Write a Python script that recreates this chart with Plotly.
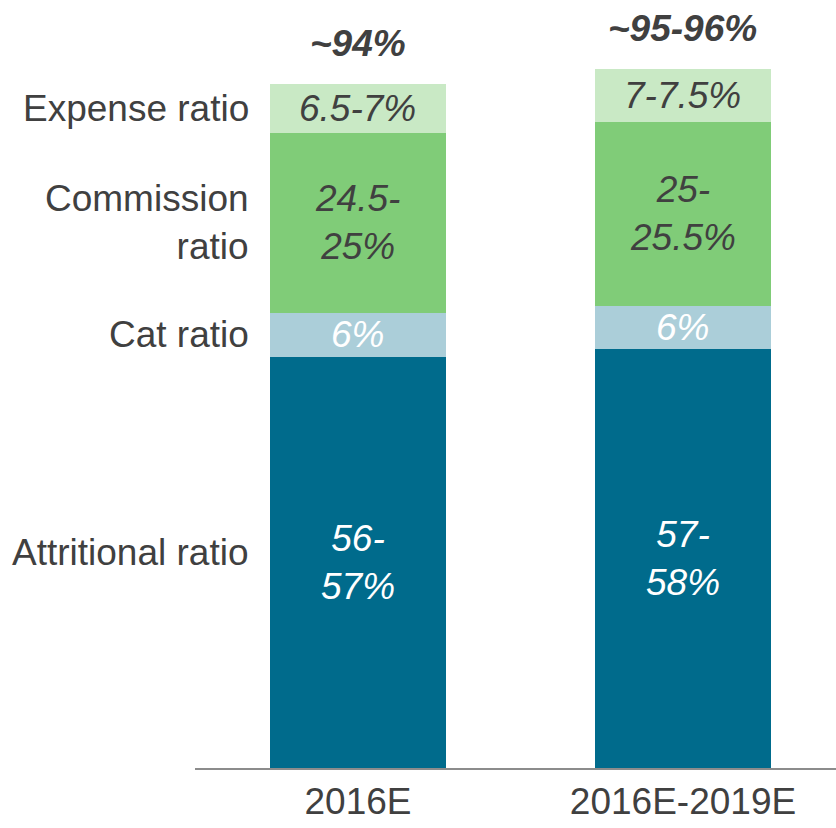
import plotly.graph_objects as go

# Combined ratio build-up, in % of net earned premium
categories = ["2016E", "2016E-2019E"]
components = ["Attritional ratio", "Cat ratio", "Commission ratio", "Expense ratio"]
attritional = [56.5, 57.5]
cat = [6.0, 6.0]
commission = [24.75, 25.25]
expense = [6.75, 7.25]

attritional_labels = ["56-<br>57%", "57-<br>58%"]
cat_labels = ["6%", "6%"]
commission_labels = ["24.5-<br>25%", "25-<br>25.5%"]
expense_labels = ["6.5-7%", "7-7.5%"]
total_labels = ["~94%", "~95-96%"]
row_labels = ["Attritional ratio", "Cat ratio", "Commission<br>ratio", "Expense ratio"]

series = [attritional, cat, commission, expense]
series_labels = [attritional_labels, cat_labels, commission_labels, expense_labels]
colors = ["#006B8C", "#ABCED9", "#80CC78", "#C9E9C5"]
text_colors = ["#FFFFFF", "#FFFFFF", "#404040", "#404040"]

FONT = "Liberation Sans, Arial, sans-serif"
DARK = "#404040"
FS = 37

fig = go.Figure()
for name, vals, col in zip(components, series, colors):
    fig.add_trace(go.Bar(
        x=[0, 1], y=vals, name=name, marker=dict(color=col, line=dict(width=0)),
        width=0.5415, hoverinfo="skip",
    ))

annotations = []
base = [0.0, 0.0]
for vals, labels, tcol, rlabel, k in zip(series, series_labels, text_colors, row_labels, range(4)):
    for i in range(2):
        mid = base[i] + vals[i] / 2
        annotations.append(dict(
            x=i, y=mid, xref="x", yref="y", text="<i>%s</i>" % labels[i],
            showarrow=False, font=dict(family=FONT, size=FS, color=tcol),
            xanchor="center", yanchor="middle", align="center",
        ))
    # row label aligned with the first column's segment
    mid0 = base[0] + vals[0] / 2
    annotations.append(dict(
        x=251, xref="paper", y=mid0, yref="y", text=rlabel, showarrow=False,
        font=dict(family=FONT, size=FS, color=DARK), xanchor="right",
        yanchor="middle", align="right", yshift=10 if k == 0 else 0,
    ))
    base = [base[i] + vals[i] for i in range(2)]

for i in range(2):
    annotations.append(dict(
        x=i, y=base[i], xref="x", yref="y", text="<b><i>%s</i></b>" % total_labels[i],
        showarrow=False, font=dict(family=FONT, size=FS, color=DARK),
        xanchor="center", yanchor="bottom", yshift=18,
    ))

# convert the row-label x position from pixels to paper coordinates
plot_left, plot_w = 195, 836 - 195
for a in annotations:
    if a.get("xref") == "paper":
        a["x"] = (a["x"] - plot_left) / plot_w

fig.update_layout(
    barmode="stack",
    width=836, height=828,
    margin=dict(l=195, r=0, t=0, b=60),
    paper_bgcolor="white", plot_bgcolor="white",
    showlegend=False,
    bargap=0,
    annotations=annotations,
    xaxis=dict(
        range=[-0.5015, 1.4708], tickmode="array", tickvals=[0, 1], ticktext=categories,
        showgrid=False, zeroline=False, showline=True, linecolor="#8C8C8C", linewidth=2,
        ticks="", tickfont=dict(family=FONT, size=FS, color=DARK),
    ),
    yaxis=dict(range=[0, 105.5], visible=False, showgrid=False, zeroline=False),
)

fig.write_html("out.html")
